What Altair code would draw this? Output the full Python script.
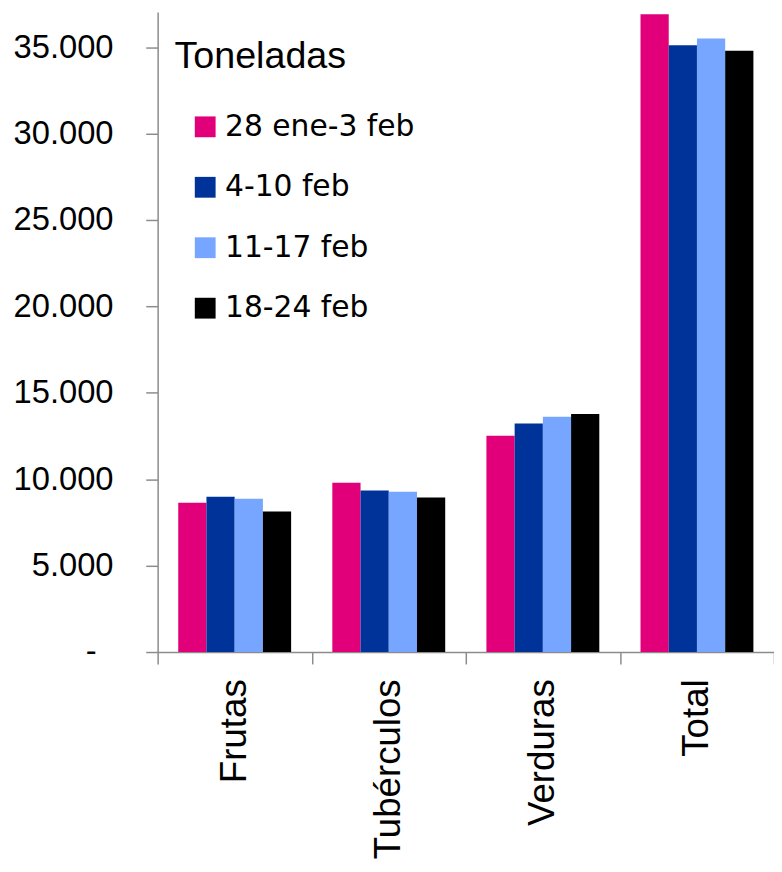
import altair as alt
import pandas as pd

categories = ["Frutas", "Tubérculos", "Verduras", "Total"]
weeks = ["28 ene-3 feb", "4-10 feb", "11-17 feb", "18-24 feb"]
week1 = [8641, 9788, 12517, 36909]
week2 = [8985, 9346, 13228, 35109]
week3 = [8870, 9272, 13607, 35493]
week4 = [8125, 8945, 13779, 34788]
colors = ["#E2007A", "#003399", "#76A6FF", "#000000"]
y_ticks = [0, 5000, 10000, 15000, 20000, 25000, 30000, 35000]

rows = []
for w, vals in zip(weeks, [week1, week2, week3, week4]):
    for c, v in zip(categories, vals):
        rows.append({"cat": c, "week": w, "value": v})
df = pd.DataFrame(rows)

bars = alt.Chart(df).mark_bar().encode(
    x=alt.X("cat:N", sort=categories,
            scale=alt.Scale(paddingInner=0, paddingOuter=0),
            axis=alt.Axis(title=None, labelAngle=270, tickBand="extent",
                          labelFont="Liberation Sans", labelFontSize=37, labelColor="black",
                          labelAlign="right", labelBaseline="middle", labelLimit=0,
                          tickSize=12, labelPadding=15,
                          domainColor="#8c8c8c", tickColor="#8c8c8c",
                          domainWidth=1.5, tickWidth=1.5)),
    xOffset=alt.XOffset("week:N", sort=weeks,
                        scale=alt.Scale(paddingOuter=0.73, paddingInner=0)),
    y=alt.Y("value:Q", scale=alt.Scale(domain=[0, 37040], nice=False),
            axis=alt.Axis(title=None, values=y_ticks, grid=False,
                          labelExpr="datum.value == 0 ? '-' : replace(format(datum.value, ','), ',', '.')",
                          labelFont="Liberation Sans", labelFontSize=33, labelColor="black",
                          tickSize=12,
                          labelPadding={"condition": {"test": "datum.value == 0", "value": 50}, "value": 33},
                          domainColor="#8c8c8c", tickColor="#8c8c8c",
                          domainWidth=1.5, tickWidth=1.5)),
    color=alt.Color("week:N", sort=weeks,
                    scale=alt.Scale(domain=weeks, range=colors),
                    legend=alt.Legend(title=None, orient="none", legendX=33, legendY=101,
                                      symbolType="square", symbolSize=441,
                                      symbolStrokeWidth=0, symbolOpacity=1,
                                      labelFont="DejaVu Sans", labelFontSize=30, labelLimit=0,
                                      labelColor="black", labelOffset=5,
                                      rowPadding=31, padding=0)),
)

title_df = pd.DataFrame({"t": ["Toneladas"]})
title_text = alt.Chart(title_df).mark_text(
    align="left", baseline="alphabetic", font="Liberation Sans", fontSize=38, color="black"
).encode(text="t:N", x=alt.value(17), y=alt.value(57))

chart = alt.layer(bars, title_text).properties(
    width=622, height=646,
    autosize=alt.AutoSizeParams(type="none"),
    padding={"left": 151, "top": 0, "right": 0, "bottom": 212},
).configure_view(stroke=None)

chart.save("out.html", embed_options={"renderer": "svg", "actions": False})
